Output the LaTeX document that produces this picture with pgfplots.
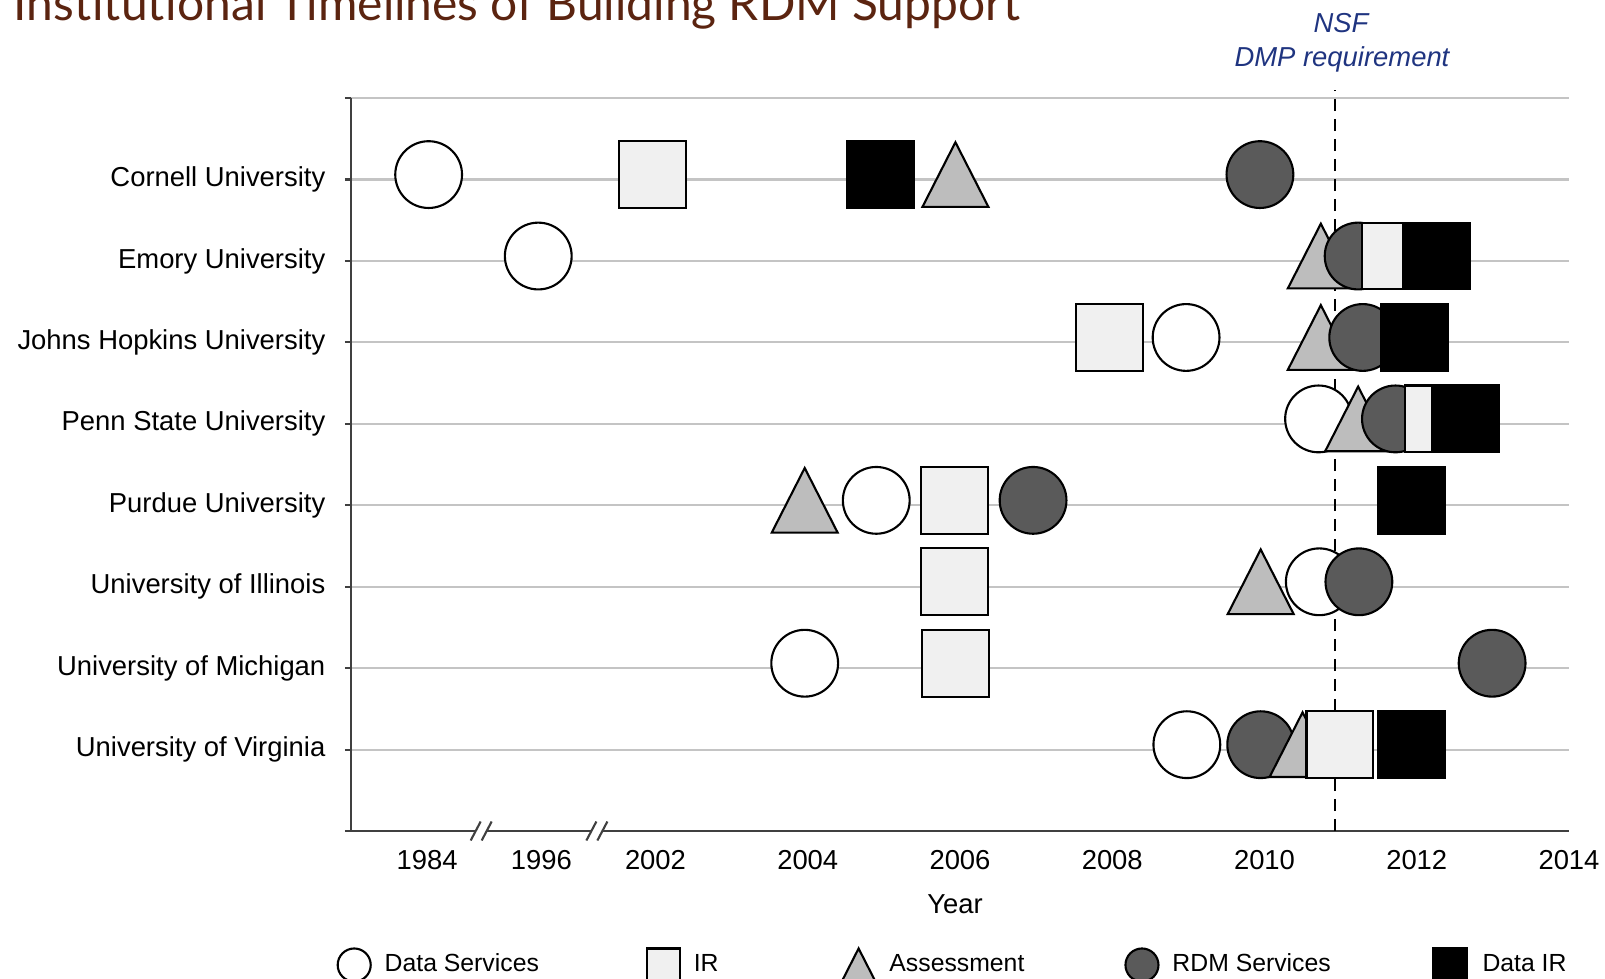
\documentclass[border=0pt]{standalone}
\usepackage{fontspec}
\setmainfont{Liberation Sans}
\newfontfamily\titlefont{Lato}
\usepackage{pgfplots}
\pgfplotsset{compat=1.18}
\definecolor{irfill}{HTML}{F0F0F0}
\definecolor{asfill}{HTML}{BDBDBD}
\definecolor{rdmfill}{HTML}{5A5A5A}
\definecolor{titlecol}{HTML}{5B2410}
\definecolor{nsfblue}{HTML}{1F3480}
\definecolor{gridgrey}{HTML}{C4C4C4}
\definecolor{axiscol}{HTML}{404040}
\pgfdeclareplotmark{tri}{%
  \pgfpathmoveto{\pgfqpoint{0pt}{\pgfplotmarksize}}%
  \pgfpathlineto{\pgfqpoint{1.02\pgfplotmarksize}{-\pgfplotmarksize}}%
  \pgfpathlineto{\pgfqpoint{-1.02\pgfplotmarksize}{-\pgfplotmarksize}}%
  \pgfpathclose
  \pgfusepathqfillstroke}
\pgfplotsset{
  ds/.style={only marks, forget plot, mark=*, mark size=9.5pt, mark options={draw=black, fill=white, line width=0.6pt, solid}},
  ir/.style={only marks, forget plot, mark=square*, mark size=9.5pt, mark options={draw=black, fill=irfill, line width=0.6pt, solid}},
  as/.style={only marks, forget plot, mark=tri, mark size=9.2pt, mark options={draw=black, fill=asfill, line width=0.6pt, solid}},
  rdm/.style={only marks, forget plot, mark=*, mark size=9.5pt, mark options={draw=black, fill=rdmfill, line width=0.6pt, solid}},
  dir/.style={only marks, forget plot, mark=square*, mark size=9.5pt, mark options={draw=black, fill=black, line width=0.6pt, solid}},
}
\newcommand{\pt}[3]{\addplot[#1] coordinates {(#2,#3)};}
\newcommand{\legfont}{\fontsize{7.05pt}{8.5pt}\selectfont}
\begin{document}
\fontsize{7.8pt}{9.4pt}\selectfont
\begin{tikzpicture}
\begin{axis}[
  scale only axis,
  width=121.8mm, height=73.3mm,
  xmin=-2, xmax=14, ymin=0, ymax=9,
  clip=false,
  axis x line*=bottom, axis y line*=left,
  axis line style={draw=axiscol, line width=0.6pt},
  xtick={-1,0.5,2,4,6,8,10,12,14},
  xticklabels={1984,1996,2002,2004,2006,2008,2010,2012,2014},
  ytick={0,1,2,3,4,5,6,7,8,9},
  yticklabels={,University of Virginia,University of Michigan,University of Illinois,Purdue University,Penn State University,Johns Hopkins University,Emory University,Cornell University,},
  tick align=outside,
  major tick length=0.6mm,
  xtick style={draw=none},
  ytick style={draw=axiscol, line width=0.6pt},
  ymajorgrids,
  major grid style={draw=gridgrey, line width=0.6pt},
  xticklabel style={inner sep=0pt, anchor=north, yshift=-1.3mm},
  yticklabel style={inner sep=0pt, anchor=east, xshift=-1.9mm},
  /pgf/number format/assume math mode=true,
  xlabel={Year},
  xlabel style={at={(axis description cs:0.4959,-0.0996)}, anchor=center, inner sep=0pt},
  legend columns=5,
  legend cell align=left,
  legend style={at={(axis description cs:-0.0115,-0.1828)}, anchor=west, draw=none, fill=none, inner sep=0pt,
    nodes={inner sep=0pt}, column sep=0pt},
]
\addlegendimage{ds, mark size=4.7pt}
\addlegendentry{\hspace*{1.4mm}\makebox[26.2mm][l]{\legfont Data Services}}
\addlegendimage{ir, mark size=4.7pt}
\addlegendentry{\hspace*{1.4mm}\makebox[14.8mm][l]{\legfont IR}}
\addlegendimage{as, mark size=4.7pt}
\addlegendentry{\hspace*{1.4mm}\makebox[23.6mm][l]{\legfont Assessment}}
\addlegendimage{rdm, mark size=4.7pt}
\addlegendentry{\hspace*{1.4mm}\makebox[26.1mm][l]{\legfont RDM Services}}
\addlegendimage{dir, mark size=4.7pt}
\addlegendentry{\hspace*{1.6mm}\legfont Data IR}

% NSF DMP requirement line
\addplot[forget plot, black, line width=0.6pt, dash pattern=on 1.2mm off 0.8mm] coordinates {(10.93,0) (10.93,9.1)};

% Cornell University (8)
\pt{ds}{-0.98}{8.06}
\pt{ir}{1.96}{8.06}
\pt{dir}{4.96}{8.06}
\pt{as}{5.94}{8.06}
\pt{rdm}{9.94}{8.06}
% Emory University (7)
\pt{ds}{0.46}{7.06}
\pt{as}{10.74}{7.06}
\pt{rdm}{11.23}{7.06}
\pt{ir}{11.72}{7.06}
\pt{dir}{12.26}{7.06}
% Johns Hopkins University (6)
\pt{ir}{7.96}{6.06}
\pt{ds}{8.97}{6.06}
\pt{as}{10.74}{6.06}
\pt{rdm}{11.29}{6.06}
\pt{dir}{11.97}{6.06}
% Penn State University (5)
\pt{ds}{10.71}{5.06}
\pt{as}{11.23}{5.06}
\pt{rdm}{11.72}{5.06}
\pt{ir}{12.28}{5.06}
\pt{dir}{12.64}{5.06}
% Purdue University (4)
\pt{as}{3.96}{4.06}
\pt{ds}{4.90}{4.06}
\pt{ir}{5.93}{4.06}
\pt{rdm}{6.96}{4.06}
\pt{dir}{11.93}{4.06}
% University of Illinois (3)
\pt{ir}{5.93}{3.06}
\pt{as}{9.95}{3.06}
\pt{ds}{10.72}{3.06}
\pt{rdm}{11.24}{3.06}
% University of Michigan (2)
\pt{ds}{3.96}{2.06}
\pt{ir}{5.94}{2.06}
\pt{rdm}{12.99}{2.06}
% University of Virginia (1)
\pt{ds}{8.98}{1.06}
\pt{rdm}{9.95}{1.06}
\pt{as}{10.50}{1.06}
\pt{ir}{10.99}{1.06}
\pt{dir}{11.93}{1.06}

\coordinate (bk1) at (axis cs:-0.29,0);
\coordinate (bk2) at (axis cs:1.23,0);
\end{axis}
\foreach \b in {bk1,bk2} {
  \fill[white] (\b) ++(-0.55mm,-0.4mm) rectangle ++(1.1mm,0.8mm);
  \draw[axiscol, line width=0.6pt] (\b) ++(-0.55mm,0) ++(-0.5mm,-0.95mm) -- ++(1.0mm,1.9mm);
  \draw[axiscol, line width=0.6pt] (\b) ++(0.55mm,0) ++(-0.5mm,-0.95mm) -- ++(1.0mm,1.9mm);
}
\node[anchor=base west, inner sep=0pt, text=titlecol] at (-33.8mm,81.0mm)
  {\resizebox{100.6mm}{!}{\titlefont Institutional Timelines of Building RDM Support}};
\node[anchor=base, inner sep=0pt, text=nsfblue, font=\itshape] at (99.0mm,79.8mm) {NSF};
\node[anchor=base, inner sep=0pt, text=nsfblue, font=\itshape] at (99.1mm,76.45mm) {DMP requirement};
\pgfresetboundingbox
\useasboundingbox (-35.1mm,-14.7mm) rectangle (125.4mm,83.1mm);
\end{tikzpicture}
\end{document}
